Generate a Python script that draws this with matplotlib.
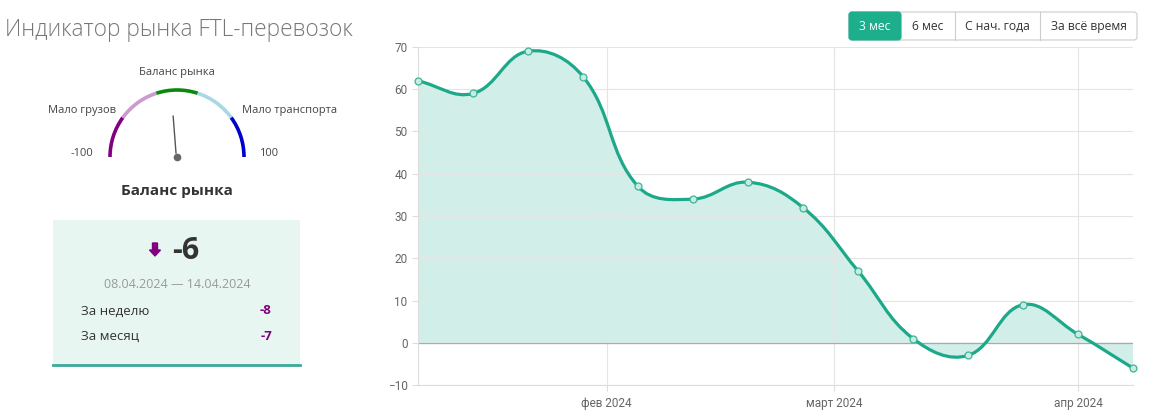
import numpy as np
import matplotlib
matplotlib.use("Agg")
import matplotlib.pyplot as plt
import matplotlib.dates as mdates
from matplotlib.path import Path
from matplotlib.patches import PathPatch, Arc, FancyBboxPatch, Rectangle, FancyArrow
import datetime as dt

# ---- data ----
week_starts = ["2024-01-08", "2024-01-15", "2024-01-22", "2024-01-29", "2024-02-05",
               "2024-02-12", "2024-02-19", "2024-02-26", "2024-03-04", "2024-03-11",
               "2024-03-18", "2024-03-25", "2024-04-01", "2024-04-08"]
balance = [62, 59, 69, 63, 37, 34, 38, 32, 17, 1, -3, 9, 2, -6]
month_ticks = ["2024-02-01", "2024-03-01", "2024-04-01"]
month_labels = ["фев 2024", "март 2024", "апр 2024"]
y_ticks = [-10, 0, 10, 20, 30, 40, 50, 60, 70]

title = "Индикатор рынка FTL-перевозок"
current_value = -6
period_label = "08.04.2024 — 14.04.2024"
week_change = -8
month_change = -7
gauge_bounds = [-100, -60, -20, 20, 60, 100]
gauge_colors = ["#800080", "#cc99d0", "#0a8a0a", "#a8d8e4", "#0000cc"]
buttons = ["3 мес", "6 мес", "С нач. года", "За всё время"]

TEAL = "#1ca98a"
FILL = "#d1efe8"
W, H = 1156, 420

fig = plt.figure(figsize=(W / 100, H / 100), dpi=100)

# ---- overlay axes in pixel coordinates ----
ov = fig.add_axes([0, 0, 1, 1], zorder=0)
ov.set_xlim(0, W)
ov.set_ylim(H, 0)
ov.axis("off")
ov.patch.set_alpha(0)

UI = ["Open Sans", "DejaVu Sans"]

ov.text(5, 30, title, fontsize=16.3, color="#777777",
        family=UI, weight="light", ha="left", va="center")

# gauge
cx, cy, r = 177, 157, 67
for i in range(5):
    a1 = 180 - (gauge_bounds[i] + 100) * 0.9
    a2 = 180 - (gauge_bounds[i + 1] + 100) * 0.9
    ov.add_patch(Arc((cx, cy), 2 * r, 2 * r, theta1=-a1, theta2=-a2,
                     color=gauge_colors[i], lw=2.6))
ang = np.deg2rad(90 - current_value * 0.9)
ov.plot([cx - 1, cx + 41 * np.cos(ang)], [cy - 4, cy - 41 * np.sin(ang)],
        color="#555555", lw=1.0)
ov.plot([cx], [cy], "o", color="#666666", ms=4.5)
ov.text(cx, 73, "Баланс рынка", fontsize=8, color="#444444", family=UI, ha="center", va="center")
ov.text(116, 110, "Мало грузов", fontsize=8, color="#444444", family=UI, ha="right", va="center")
ov.text(242, 110, "Мало транспорта", fontsize=8, color="#444444", family=UI, ha="left", va="center")
ov.text(93, 153, "-100", fontsize=8, color="#444444", family=UI, ha="right", va="center")
ov.text(259, 153, "100", fontsize=8, color="#444444", family=UI, ha="left", va="center")
ov.text(cx, 191, "Баланс рынка", fontsize=11, color="#333333", family=UI,
        weight="bold", ha="center", va="center")

# info box
ov.add_patch(Rectangle((53, 220), 247, 145, facecolor="#e8f6f2", edgecolor="none"))
ov.plot([53, 300], [365, 365], color="#3aa99a", lw=2)
ov.add_patch(FancyArrow(155, 243, 0, 13, width=5, head_width=11, head_length=6,
                        length_includes_head=True, color="#800080"))
ov.text(172, 251, f"{current_value}", fontsize=22, color="#333333", family=UI,
        weight="bold", ha="left", va="center")
ov.text(177, 284, period_label, fontsize=9, color="#999999", family=UI, ha="center", va="center")
ov.text(81, 311, "За неделю", fontsize=9.5, color="#333333", family=UI, ha="left", va="center")
ov.text(272, 311, f"{week_change}", fontsize=9.5, color="#800080", family=UI,
        weight="bold", ha="right", va="center")
ov.text(81, 336, "За месяц", fontsize=9.5, color="#333333", family=UI, ha="left", va="center")
ov.text(272, 336, f"{month_change}", fontsize=9.5, color="#800080", family=UI,
        weight="bold", ha="right", va="center")

# buttons
bx = [849, 901, 955, 1040, 1137]
ov.add_patch(FancyBboxPatch((849, 12), 1137 - 849, 28, boxstyle="round,pad=0,rounding_size=3",
                            facecolor="white", edgecolor="#cccccc", lw=0.8))
ov.add_patch(FancyBboxPatch((849, 12), 901 - 849, 28, boxstyle="round,pad=0,rounding_size=3",
                            facecolor="#1dae8c", edgecolor="#1dae8c", lw=0.8))
for i, lab in enumerate(buttons):
    if i > 1:
        ov.plot([bx[i], bx[i]], [12, 40], color="#cccccc", lw=0.8)
    ov.text((bx[i] + bx[i + 1]) / 2, 26.5, lab, fontsize=8.7, family=UI,
            color="white" if i == 0 else "#333333", ha="center", va="center")

# ---- chart ----
ax = fig.add_axes([418 / W, 1 - 385 / H, (1133 - 418) / W, (385 - 47) / H], zorder=1)
ax.patch.set_alpha(0)
dates = [mdates.date2num(dt.date.fromisoformat(d)) for d in week_starts]
x0, x1 = dates[0], dates[-1]
ax.set_xlim(x0, x1)
ax.set_ylim(-10, 70)

# Chart.js style bezier (tension 0.4) computed in pixel-scaled space
sx = (1133 - 418) / (x1 - x0)
sy = (385 - 47) / 80.0
P = np.array([[d * sx, v * sy] for d, v in zip(dates, balance)])
t = 0.4
cps = []
n = len(P)
for i in range(n):
    prev = P[i - 1] if i > 0 else P[i]
    nxt = P[i + 1] if i < n - 1 else P[i]
    cur = P[i]
    d01 = np.hypot(*(cur - prev))
    d12 = np.hypot(*(nxt - cur))
    tot = d01 + d12
    s01 = d01 / tot if tot else 0
    s12 = d12 / tot if tot else 0
    cps.append((cur - t * s01 * (nxt - prev), cur + t * s12 * (nxt - prev)))
verts = [P[0]]
codes = [Path.MOVETO]
for i in range(n - 1):
    verts += [cps[i][1], cps[i + 1][0], P[i + 1]]
    codes += [Path.CURVE4] * 3
verts = np.array(verts) / np.array([sx, sy])
line_path = Path(verts, codes)
fill_verts = np.vstack([verts, [[x1, 0], [x0, 0], [x0, verts[0][1]]]])
fill_codes = codes + [Path.LINETO, Path.LINETO, Path.CLOSEPOLY]
ax.add_patch(PathPatch(Path(fill_verts, fill_codes), facecolor=FILL, edgecolor="none", zorder=1))
ax.add_patch(PathPatch(line_path, facecolor="none", edgecolor=TEAL, lw=2.3, zorder=3,
                       capstyle="round"))
ax.plot(dates, balance, "o", ms=5, mfc="#c8ece2", mec="#3bb596", mew=0.9, zorder=4, clip_on=False)

ax.set_yticks(y_ticks)
ax.set_xticks([mdates.date2num(dt.date.fromisoformat(d)) for d in month_ticks])
ax.set_xticklabels(month_labels)
ax.grid(True, color="#e4e4e4", lw=0.8, zorder=0)
ax.axhline(0, color="#aaaaaa", lw=0.9, zorder=2)
for s in ["top", "right"]:
    ax.spines[s].set_visible(False)
for s in ["left", "bottom"]:
    ax.spines[s].set_color("#dddddd")
    ax.spines[s].set_linewidth(0.8)
ax.tick_params(axis="both", colors="#dddddd", labelcolor="#666666", labelsize=8.5, length=4, width=0.8)
ax.tick_params(axis="x", pad=5)
for lab in ax.get_xticklabels() + ax.get_yticklabels():
    lab.set_family(["Roboto", "DejaVu Sans"])

fig.savefig("out.png", dpi=100)
